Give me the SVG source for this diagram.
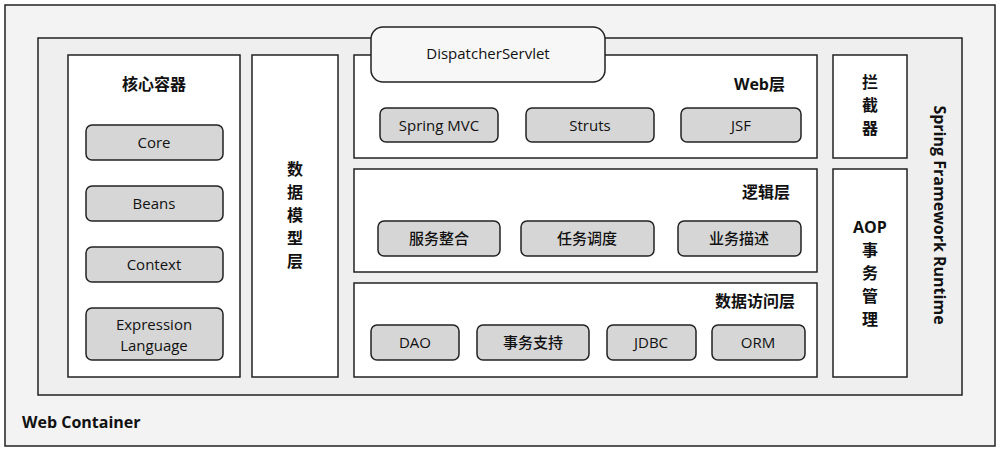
<svg xmlns="http://www.w3.org/2000/svg" width="1000" height="451" viewBox="0 0 1000 451">
<style>
text{font-family:"Open Sans","Noto Sans CJK SC",sans-serif;fill:#111}
.box{fill:#fff;stroke:#222;stroke-width:1.5}
.item{fill:#d6d6d6;stroke:#222;stroke-width:1.5}
.t{font-size:15px;text-anchor:middle;font-weight:500}
.h{font-size:16px;font-weight:bold}
</style>
<rect x="5" y="5" width="990" height="441" fill="#f3f3f3" stroke="#222" stroke-width="1.5"/>
<rect x="38" y="38" width="924" height="357" fill="#efefef" stroke="#222" stroke-width="1.5"/>
<text x="22" y="428" class="h">Web Container</text>
<text class="h" transform="translate(934,215) rotate(90)" text-anchor="middle">Spring Framework Runtime</text>
<g id="core-container">
<rect class="box" x="68" y="55" width="172" height="322"/>
<text x="154" y="90" class="h" text-anchor="middle">核心容器</text>
<rect class="item" x="86" y="125" width="137" height="35" rx="6"/><text x="154" y="148" class="t">Core</text>
<rect class="item" x="86" y="186" width="137" height="35" rx="6"/><text x="154" y="209" class="t">Beans</text>
<rect class="item" x="86" y="247" width="137" height="35" rx="6"/><text x="154" y="270" class="t">Context</text>
<rect class="item" x="86" y="308" width="137" height="52" rx="6"/><text x="154" y="330" class="t">Expression</text><text x="154" y="351" class="t">Language</text>
</g>
<g id="data-model">
<rect class="box" x="252" y="55" width="86" height="322"/>
<text x="295" y="175" class="h" text-anchor="middle">数</text>
<text x="295" y="198" class="h" text-anchor="middle">据</text>
<text x="295" y="221" class="h" text-anchor="middle">模</text>
<text x="295" y="244" class="h" text-anchor="middle">型</text>
<text x="295" y="267" class="h" text-anchor="middle">层</text>
</g>
<g id="web-layer">
<rect class="box" x="354" y="55" width="463" height="103"/>
<text x="785" y="90" class="h" text-anchor="end">Web层</text>
<rect class="item" x="380" y="108" width="118" height="34" rx="6"/><text x="439" y="131" class="t">Spring MVC</text>
<rect class="item" x="526" y="108" width="128" height="34" rx="6"/><text x="590" y="131" class="t">Struts</text>
<rect class="item" x="681" y="108" width="120" height="34" rx="6"/><text x="741" y="131" class="t">JSF</text>
</g>
<g id="dispatcher">
<rect x="371" y="27" width="234" height="55" rx="12" fill="#f7f7f7" stroke="#222" stroke-width="1.5"/>
<text x="488" y="59" class="t" font-weight="600">DispatcherServlet</text>
</g>
<g id="logic-layer">
<rect class="box" x="354" y="169" width="463" height="103"/>
<text x="790" y="198" class="h" text-anchor="end">逻辑层</text>
<rect class="item" x="378" y="221" width="122" height="35" rx="6"/><text x="439" y="244" class="t">服务整合</text>
<rect class="item" x="521" y="221" width="133" height="35" rx="6"/><text x="587" y="244" class="t">任务调度</text>
<rect class="item" x="678" y="221" width="123" height="35" rx="6"/><text x="739" y="244" class="t">业务描述</text>
</g>
<g id="data-access">
<rect class="box" x="354" y="283" width="463" height="94"/>
<text x="795" y="307" class="h" text-anchor="end">数据访问层</text>
<rect class="item" x="371" y="325" width="88" height="35" rx="6"/><text x="415" y="348" class="t">DAO</text>
<rect class="item" x="477" y="325" width="112" height="35" rx="6"/><text x="533" y="348" class="t">事务支持</text>
<rect class="item" x="607" y="325" width="89" height="35" rx="6"/><text x="651" y="348" class="t">JDBC</text>
<rect class="item" x="712" y="325" width="93" height="35" rx="6"/><text x="758" y="348" class="t">ORM</text>
</g>
<g id="interceptor">
<rect class="box" x="833" y="55" width="74" height="103"/>
<text x="870" y="88" class="h" text-anchor="middle">拦</text>
<text x="870" y="111" class="h" text-anchor="middle">截</text>
<text x="870" y="134" class="h" text-anchor="middle">器</text>
</g>
<g id="aop">
<rect class="box" x="833" y="169" width="74" height="208"/>
<text x="870" y="233" class="h" text-anchor="middle">AOP</text>
<text x="870" y="256" class="h" text-anchor="middle">事</text>
<text x="870" y="279" class="h" text-anchor="middle">务</text>
<text x="870" y="302" class="h" text-anchor="middle">管</text>
<text x="870" y="325" class="h" text-anchor="middle">理</text>
</g>
<g id="connectors"></g>
</svg>
